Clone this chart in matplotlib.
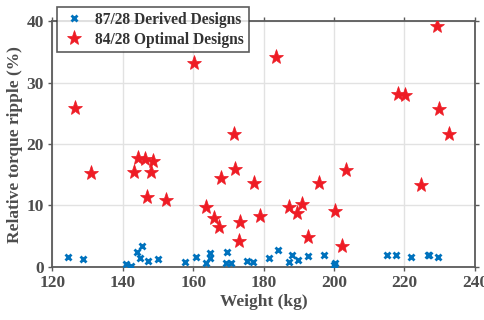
import matplotlib.pyplot as plt

# 87/28 derived designs (weight kg, ripple %)
derived_w = [124.5, 128.6, 141.0, 142.4, 144.0, 145.4, 144.8, 147.3, 149.9, 157.8,
             160.8, 163.5, 164.8, 164.8, 169.6, 169.3, 170.7, 175.2, 176.9, 181.6,
             184.2, 187.1, 188.2, 189.8, 192.6, 197.2, 200.0, 200.3, 215.0, 217.5,
             221.9, 226.7, 227.1, 229.6]
derived_r = [1.5, 1.3, 0.45, 0.1, 2.4, 3.3, 1.4, 1.0, 1.25, 0.7,
             1.6, 0.65, 2.3, 1.4, 2.4, 0.55, 0.55, 0.93, 0.8, 1.37,
             2.8, 0.8, 1.85, 1.1, 1.8, 1.9, 0.3, 0.65, 1.9, 1.9,
             1.6, 1.95, 1.85, 1.5]

# 84/28 optimal designs
optimal_w = [126.5, 131.1, 143.1, 144.3, 146.2, 148.6, 148.1, 147.0, 152.2, 160.1,
             163.7, 165.8, 167.3, 167.9, 171.5, 172.0, 172.9, 173.4, 177.4, 179.1,
             183.5, 187.1, 189.4, 191.0, 192.7, 195.6, 200.2, 202.3, 203.3, 218.2,
             220.1, 224.6, 229.3, 229.8, 232.6]
optimal_r = [25.9, 15.2, 15.4, 17.8, 17.6, 17.3, 15.5, 11.4, 10.8, 33.3,
             9.8, 8.0, 6.4, 14.4, 21.7, 16.0, 4.2, 7.3, 13.6, 8.3,
             34.2, 9.8, 8.7, 10.3, 4.9, 13.6, 9.1, 3.3, 15.8, 28.1,
             28.0, 13.3, 39.3, 25.7, 21.7]

txt = '#4d4d4d'
edge = '#5a5a5a'
plt.rcParams['font.family'] = ['Liberation Serif', 'DejaVu Serif']
plt.rcParams['font.weight'] = 'bold'

fig = plt.figure(figsize=(4.85, 3.2), dpi=100)
ax = fig.add_axes([0.108, 0.1666, 0.871, 0.7664])

ax.plot(derived_w, derived_r, 'x', color='#0072BD', ms=5, mew=2,
        label='87/28 Derived Designs', zorder=3)
ax.plot(optimal_w, optimal_r, '*', color='#EE1C25', ms=11, mew=0.5,
        label='84/28 Optimal Designs', zorder=3)

ax.set_xlim(120, 240)
ax.set_ylim(0, 40)
ax.set_xticks(range(120, 241, 20))
ax.set_yticks(range(0, 41, 10))
ax.grid(True, color='#e2e2e2', lw=1)
ax.set_axisbelow(True)
for s in ax.spines.values():
    s.set_color(edge)
    s.set_linewidth(1.3)
ax.tick_params(direction='out', length=3, width=1, colors=edge,
               labelcolor=txt, labelsize=12.5, top=True, right=True,
               labeltop=False, labelright=False, pad=3)
for lab in ax.get_xticklabels() + ax.get_yticklabels():
    lab.set_fontweight('bold')

ax.set_xlabel('Weight (kg)', fontsize=12.5, fontweight='bold', color=txt, labelpad=2)
ax.set_ylabel('Relative torque ripple (%)', fontsize=12.5, fontweight='bold', color=txt, labelpad=3)

leg = ax.legend(loc='upper left', bbox_to_anchor=(0.01, 1.058), fontsize=11.2,
                frameon=True, fancybox=False, borderpad=0.3, handletextpad=0.6,
                labelspacing=0.25, handlelength=1.6, borderaxespad=0)
leg.get_frame().set_edgecolor('#333333')
leg.get_frame().set_linewidth(1.2)
for t in leg.get_texts():
    t.set_color('#333333')
    t.set_fontweight('bold')

fig.savefig('out.png', dpi=100)
